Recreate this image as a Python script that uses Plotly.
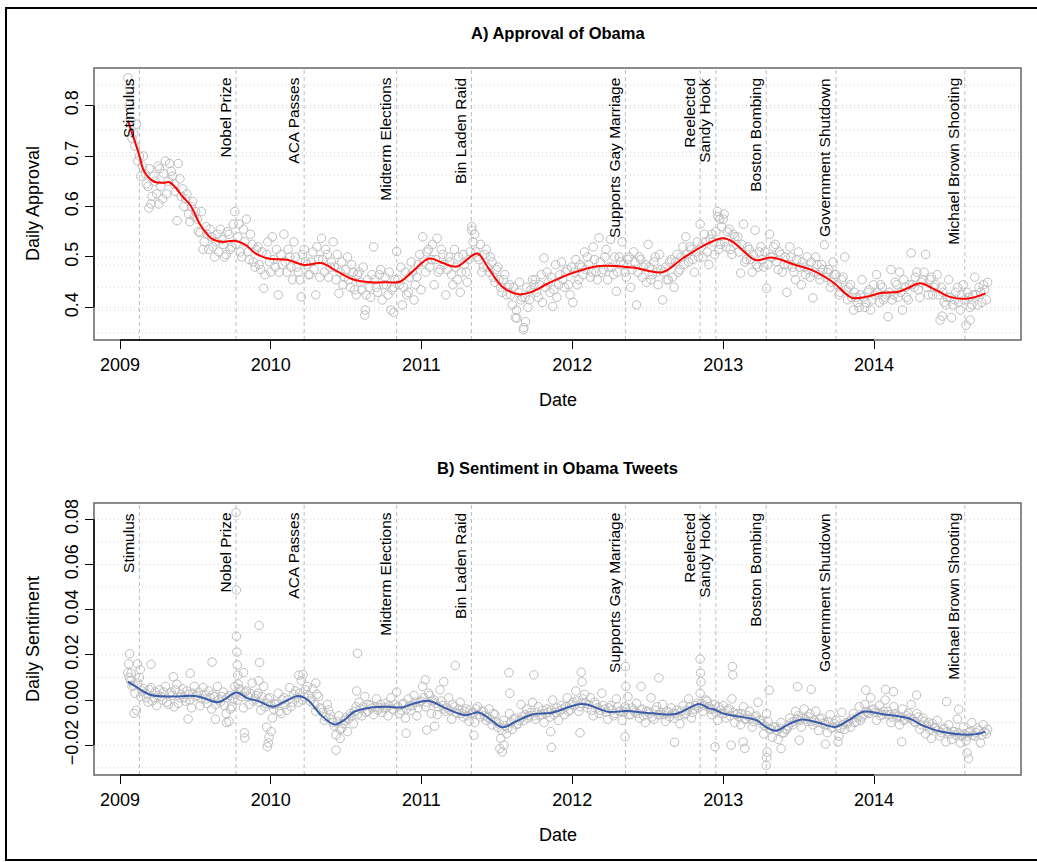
import pandas as pd
import plotly.graph_objects as go

# ---------------- data ----------------
event_names = ["Stimulus", "Nobel Prize", "ACA Passes", "Midterm Elections", "Bin Laden Raid",
               "Supports Gay Marriage", "Reelected", "Sandy Hook", "Boston Bombing",
               "Government Shutdown", "Michael Brown Shooting"]
event_dates = ["2009-02-17", "2009-10-09", "2010-03-23", "2010-11-02", "2011-05-02",
               "2012-05-09", "2012-11-06", "2012-12-14", "2013-04-15", "2013-10-01", "2014-08-09"]

year_ticks = ["2009-01-01", "2010-01-01", "2011-01-01", "2012-01-01", "2013-01-01", "2014-01-01"]
year_labels = ["2009", "2010", "2011", "2012", "2013", "2014"]

# daily approval sampled on Tuesdays, starting 2009-01-20
approval_tue = [
    0.855, 0.770,
    0.745, 0.763, 0.700, 0.680,
    0.665, 0.640, 0.605, 0.660, 0.625,
    0.675, 0.615, 0.690, 0.650,
    0.670, 0.645, 0.572, 0.655,
    0.635, 0.615, 0.585, 0.600, 0.580,
    0.575, 0.548, 0.515, 0.560,
    0.515, 0.540, 0.500, 0.545,
    0.555, 0.525, 0.505, 0.545, 0.520,
    0.590, 0.540, 0.510, 0.555,
    0.575, 0.495, 0.525, 0.480,
    0.520, 0.475, 0.438, 0.505, 0.490,
    # 2010
    0.540, 0.480, 0.425, 0.505,
    0.545, 0.470, 0.500, 0.455,
    0.500, 0.470, 0.421, 0.515, 0.485,
    0.465, 0.510, 0.425, 0.495,
    0.537, 0.470, 0.505, 0.480,
    0.530, 0.455, 0.428, 0.490, 0.460,
    0.500, 0.440, 0.470, 0.425,
    0.470, 0.435, 0.385, 0.455, 0.420,
    0.520, 0.440, 0.465, 0.415,
    0.460, 0.425, 0.395, 0.440,
    0.511, 0.445, 0.405, 0.470, 0.430,
    0.490, 0.415, 0.460, 0.505,
    # 2011
    0.540, 0.470, 0.515, 0.495,
    0.445, 0.537, 0.475, 0.505,
    0.425, 0.500, 0.465, 0.515, 0.455,
    0.430, 0.505, 0.470, 0.495,
    0.560, 0.545, 0.500, 0.525, 0.480,
    0.515, 0.470, 0.490, 0.450,
    0.480, 0.440, 0.455, 0.425,
    0.445, 0.405, 0.380, 0.430, 0.415,
    0.360, 0.440, 0.415, 0.455,
    0.455, 0.420, 0.465, 0.498,
    0.470, 0.430, 0.402, 0.485, 0.445,
    0.490, 0.440, 0.475, 0.425,
    # 2012
    0.410, 0.495, 0.455, 0.480, 0.510,
    0.500, 0.460, 0.520, 0.470,
    0.538, 0.470, 0.500, 0.455,
    0.535, 0.465, 0.432, 0.500,
    0.530, 0.470, 0.495, 0.440, 0.510,
    0.405, 0.500, 0.460, 0.485,
    0.525, 0.455, 0.490, 0.470, 0.505,
    0.415, 0.480, 0.455, 0.495,
    0.440, 0.505, 0.475, 0.520,
    0.540, 0.490, 0.515, 0.470, 0.530,
    0.565, 0.500, 0.530, 0.485,
    0.545, 0.505, 0.590, 0.525,
    # 2013
    0.575, 0.520, 0.555, 0.505, 0.540,
    0.540, 0.468, 0.565, 0.495,
    0.515, 0.470, 0.553, 0.480,
    0.520, 0.480, 0.438, 0.545, 0.500,
    0.525, 0.475, 0.505, 0.485,
    0.430, 0.520, 0.480, 0.455,
    0.510, 0.445, 0.480, 0.500, 0.460,
    0.419, 0.500, 0.465, 0.485,
    0.524, 0.470, 0.440, 0.490,
    0.465, 0.425, 0.455, 0.500, 0.415,
    0.445, 0.395, 0.420, 0.400,
    0.455, 0.400, 0.430, 0.395, 0.445,
    # 2014
    0.465, 0.410, 0.440, 0.420,
    0.382, 0.475, 0.425, 0.445,
    0.470, 0.395, 0.440, 0.415,
    0.508, 0.440, 0.470, 0.420, 0.455,
    0.505, 0.425, 0.460, 0.440,
    0.465, 0.375, 0.430, 0.405,
    0.455, 0.380, 0.415, 0.440, 0.395,
    0.445, 0.365, 0.420, 0.405,
    0.460, 0.405, 0.430, 0.445, 0.415,
]

# daily approval sampled on Fridays, starting 2009-01-23
approval_fri = [
    0.800, 0.735,
    0.720, 0.690, 0.660, 0.700,
    0.645, 0.675, 0.620, 0.650, 0.680,
    0.640, 0.665, 0.625, 0.685,
    0.660, 0.630, 0.685, 0.620,
    0.600, 0.625, 0.570, 0.610, 0.590,
    0.550, 0.590, 0.530, 0.545,
    0.555, 0.520, 0.530, 0.510,
    0.535, 0.500, 0.550, 0.515, 0.565,
    0.525, 0.565, 0.500, 0.530,
    0.510, 0.545, 0.490, 0.515,
    0.485, 0.510, 0.465, 0.530, 0.470,
    # 2010
    0.495, 0.515, 0.470, 0.485,
    0.490, 0.515, 0.480, 0.530,
    0.480, 0.455, 0.505, 0.490, 0.465,
    0.490, 0.475, 0.520, 0.460,
    0.495, 0.515, 0.460, 0.490,
    0.480, 0.505, 0.470, 0.445, 0.475,
    0.455, 0.485, 0.435, 0.465,
    0.450, 0.480, 0.425, 0.440, 0.465,
    0.455, 0.430, 0.475, 0.445,
    0.445, 0.470, 0.435, 0.455,
    0.455, 0.480, 0.440, 0.425, 0.460,
    0.470, 0.445, 0.485, 0.435,
    # 2011
    0.490, 0.510, 0.480, 0.525,
    0.495, 0.470, 0.515, 0.485,
    0.475, 0.490, 0.445, 0.480, 0.500,
    0.470, 0.485, 0.450, 0.510,
    0.530, 0.510, 0.495, 0.470, 0.505,
    0.480, 0.500, 0.460, 0.475,
    0.455, 0.430, 0.465, 0.440,
    0.425, 0.440, 0.395, 0.450, 0.420,
    0.420, 0.400, 0.435, 0.445,
    0.430, 0.445, 0.410, 0.440,
    0.450, 0.460, 0.435, 0.420, 0.465,
    0.455, 0.470, 0.445, 0.480,
    # 2012
    0.470, 0.445, 0.485, 0.465, 0.475,
    0.485, 0.470, 0.495, 0.455,
    0.490, 0.475, 0.515, 0.480,
    0.480, 0.500, 0.470, 0.490,
    0.485, 0.460, 0.500, 0.475, 0.490,
    0.470, 0.495, 0.480, 0.450,
    0.480, 0.465, 0.500, 0.445, 0.475,
    0.470, 0.455, 0.490, 0.460,
    0.490, 0.470, 0.500, 0.485,
    0.505, 0.520, 0.495, 0.510, 0.500,
    0.520, 0.545, 0.510, 0.535,
    0.530, 0.550, 0.515, 0.560,
    # 2013
    0.530, 0.550, 0.515, 0.545, 0.525,
    0.510, 0.525, 0.490, 0.520,
    0.495, 0.505, 0.485, 0.510,
    0.495, 0.510, 0.485, 0.500, 0.520,
    0.490, 0.510, 0.470, 0.500,
    0.485, 0.500, 0.470, 0.495,
    0.480, 0.490, 0.465, 0.475, 0.490,
    0.470, 0.485, 0.455, 0.475,
    0.460, 0.475, 0.450, 0.465,
    0.445, 0.430, 0.460, 0.435, 0.440,
    0.420, 0.430, 0.410, 0.425,
    0.420, 0.410, 0.435, 0.415, 0.425,
    # 2014
    0.430, 0.445, 0.415, 0.425,
    0.430, 0.415, 0.450, 0.420,
    0.430, 0.455, 0.420, 0.445,
    0.445, 0.460, 0.435, 0.450, 0.470,
    0.440, 0.455, 0.425, 0.445,
    0.425, 0.440, 0.410, 0.420,
    0.420, 0.405, 0.430, 0.410, 0.425,
    0.415, 0.430, 0.400, 0.425,
    0.425, 0.440, 0.410, 0.435, 0.450,
]

approval_extra_dates = ["2009-01-24", "2009-03-12", "2009-04-05", "2010-08-18", "2010-10-26",
                        "2011-05-03", "2011-08-20", "2011-09-05", "2011-09-10", "2012-12-19",
                        "2012-12-24", "2013-01-03", "2014-06-15", "2014-08-22"]
approval_extra_values = [0.835, 0.597, 0.605, 0.395, 0.390,
                         0.553, 0.379, 0.356, 0.372, 0.580,
                         0.575, 0.585, 0.383, 0.375]

approval_smooth_dates = [
    "2009-01-20", "2009-02-15", "2009-03-01", "2009-03-25", "2009-04-15", "2009-05-01",
    "2009-05-15", "2009-06-01", "2009-06-20", "2009-07-15", "2009-08-10", "2009-09-05",
    "2009-10-05", "2009-11-01", "2009-11-25", "2009-12-25", "2010-02-12", "2010-03-24",
    "2010-05-03", "2010-06-12", "2010-07-22", "2010-09-01", "2010-10-11", "2010-11-10",
    "2010-12-10", "2011-01-20", "2011-02-22", "2011-03-28", "2011-05-16", "2011-06-12",
    "2011-07-16", "2011-08-25", "2011-09-25", "2011-11-05", "2012-01-01", "2012-03-07",
    "2012-05-26", "2012-08-07", "2012-09-24", "2012-11-25", "2012-12-31", "2013-01-24",
    "2013-02-16", "2013-03-20", "2013-04-28", "2013-06-25", "2013-08-04", "2013-09-22",
    "2013-11-09", "2013-12-12", "2014-01-20", "2014-03-01", "2014-03-26", "2014-04-23",
    "2014-05-30", "2014-07-08", "2014-08-18", "2014-09-28"]
approval_smooth_values = [
    0.770, 0.706, 0.669, 0.649, 0.647, 0.648,
    0.638, 0.620, 0.603, 0.563, 0.537, 0.530,
    0.532, 0.524, 0.507, 0.497, 0.494, 0.484,
    0.488, 0.471, 0.455, 0.450, 0.450, 0.451,
    0.471, 0.497, 0.488, 0.481, 0.507, 0.478,
    0.441, 0.426, 0.431, 0.448, 0.468, 0.482,
    0.479, 0.470, 0.497, 0.527, 0.537, 0.530,
    0.514, 0.494, 0.499, 0.484, 0.474, 0.451,
    0.419, 0.421, 0.429, 0.431, 0.439, 0.448,
    0.435, 0.420, 0.418, 0.428]

# daily tweet sentiment sampled on Tuesdays, starting 2009-01-20
sentiment_tue = [
    0.0120, 0.0085,
    0.0065, -0.0045, 0.0100, 0.0040,
    0.0030, -0.0010, 0.0055, 0.0010, -0.0025,
    0.0045, 0.0000, 0.0060, -0.0020,
    0.0035, -0.0030, 0.0070, 0.0010,
    0.0050, -0.0005, 0.0025, -0.0035, 0.0060,
    0.0020, -0.0025, 0.0055, 0.0005,
    0.0040, -0.0040, 0.0015, 0.0060,
    -0.0010, 0.0035, -0.0060, 0.0020, -0.0030,
    0.0060, 0.0000, 0.0045, -0.0035,
    0.0040, -0.0020, 0.0075, 0.0005,
    0.0030, -0.0045, 0.0060, -0.0015, 0.0010,
    # 2010
    -0.0080, -0.0020, 0.0030, -0.0060,
    0.0010, -0.0045, 0.0055, -0.0010,
    0.0040, -0.0010, 0.0085, 0.0015, 0.0060,
    -0.0005, 0.0050, -0.0050, 0.0015,
    -0.0040, -0.0090, -0.0020, -0.0065,
    -0.0100, -0.0155, -0.0070, -0.0125, -0.0090,
    -0.0140, -0.0060, -0.0105, -0.0030,
    -0.0010, -0.0070, 0.0015, -0.0050, -0.0025,
    -0.0065, 0.0005, -0.0035, -0.0055,
    -0.0015, -0.0070, 0.0010, -0.0045,
    0.0035, -0.0060, -0.0020, -0.0080, 0.0005,
    -0.0045, 0.0020, -0.0070, -0.0010,
    # 2011
    0.0060, -0.0030, 0.0030, -0.0060,
    0.0000, -0.0065, 0.0045, -0.0025,
    -0.0050, 0.0010, -0.0085, -0.0030, -0.0060,
    -0.0010, -0.0075, -0.0040, -0.0095,
    -0.0060, -0.0100, -0.0030, -0.0075, -0.0050,
    -0.0090, -0.0040, -0.0110, -0.0065,
    -0.0120, -0.0170, -0.0090, -0.0150,
    -0.0060, -0.0130, -0.0080, -0.0105, -0.0020,
    -0.0090, -0.0040, -0.0070, -0.0010,
    -0.0085, -0.0030, -0.0065, -0.0100,
    -0.0040, -0.0075, 0.0000, -0.0055, -0.0090,
    -0.0025, -0.0065, 0.0010, -0.0045,
    # 2012
    -0.0010, 0.0040, -0.0050, -0.0015, 0.0025,
    -0.0035, 0.0010, -0.0070, -0.0020,
    -0.0060, 0.0030, -0.0040, -0.0085,
    -0.0025, -0.0070, 0.0005, -0.0050,
    -0.0090, -0.0030, 0.0015, -0.0065, -0.0045,
    -0.0015, -0.0080, -0.0040, -0.0100,
    -0.0050, 0.0010, -0.0085, -0.0030, -0.0065,
    -0.0020, -0.0095, -0.0055, -0.0035,
    -0.0080, -0.0045, -0.0105, -0.0025,
    -0.0060, 0.0005, -0.0080, -0.0040, -0.0015,
    0.0030, -0.0050, 0.0000, -0.0030,
    -0.0065, -0.0020, -0.0090, -0.0045,
    # 2013
    -0.0025, -0.0080, -0.0040, 0.0005, -0.0100,
    -0.0060, -0.0110, -0.0030, -0.0085,
    -0.0050, -0.0120, -0.0075, -0.0010,
    -0.0090, -0.0150, -0.0060, -0.0125, -0.0165,
    -0.0120, -0.0175, -0.0100, -0.0145,
    -0.0130, -0.0080, -0.0110, -0.0050,
    -0.0070, -0.0120, -0.0040, -0.0095, -0.0060,
    -0.0110, -0.0050, -0.0135, -0.0080,
    -0.0100, -0.0145, -0.0065, -0.0120,
    -0.0090, -0.0160, -0.0055, -0.0130, -0.0105,
    -0.0120, -0.0060, -0.0095, -0.0030,
    -0.0075, -0.0020, -0.0055, 0.0010, -0.0040,
    # 2014
    -0.0090, -0.0025, -0.0065, 0.0000,
    -0.0050, -0.0100, -0.0030, -0.0075,
    -0.0110, -0.0040, -0.0085, -0.0060,
    -0.0020, -0.0095, -0.0060, -0.0130, -0.0080,
    -0.0150, -0.0100, -0.0170, -0.0120,
    -0.0090, -0.0160, -0.0130, -0.0185,
    -0.0110, -0.0175, -0.0140, -0.0085, -0.0190,
    -0.0120, -0.0180, -0.0145, -0.0100,
    -0.0160, -0.0125, -0.0190, -0.0110, -0.0150,
]

# daily tweet sentiment sampled on Fridays, starting 2009-01-23
sentiment_fri = [
    0.0100, 0.0060,
    0.0030, 0.0075, 0.0015, 0.0050,
    0.0010, 0.0045, -0.0005, 0.0035, 0.0020,
    0.0015, 0.0035, -0.0010, 0.0030,
    0.0020, 0.0045, -0.0015, 0.0025,
    0.0010, 0.0040, 0.0000, 0.0030, 0.0015,
    0.0035, 0.0005, 0.0025, -0.0015,
    0.0010, 0.0025, -0.0020, 0.0000,
    0.0015, -0.0025, 0.0010, -0.0040, 0.0005,
    0.0025, 0.0050, 0.0015, 0.0035,
    0.0015, 0.0030, -0.0005, 0.0020,
    -0.0010, 0.0015, -0.0030, 0.0005, -0.0020,
    # 2010
    -0.0040, -0.0015, -0.0050, 0.0000,
    -0.0020, 0.0000, -0.0030, 0.0025,
    0.0010, 0.0030, 0.0000, 0.0045, 0.0020,
    0.0005, -0.0020, 0.0025, -0.0035,
    -0.0055, -0.0075, -0.0045, -0.0085,
    -0.0115, -0.0095, -0.0130, -0.0105, -0.0080,
    -0.0085, -0.0070, -0.0050, -0.0065,
    -0.0040, -0.0030, -0.0055, -0.0020, -0.0035,
    -0.0030, -0.0045, -0.0020, -0.0035,
    -0.0035, -0.0025, -0.0040, -0.0020,
    -0.0030, -0.0045, -0.0015, -0.0040, -0.0025,
    -0.0025, -0.0010, -0.0035, -0.0005,
    # 2011
    0.0010, -0.0010, 0.0020, -0.0005,
    -0.0015, -0.0030, -0.0005, -0.0040,
    -0.0035, -0.0045, -0.0020, -0.0055, -0.0040,
    -0.0060, -0.0050, -0.0070, -0.0045,
    -0.0055, -0.0040, -0.0065, -0.0050, -0.0070,
    -0.0075, -0.0085, -0.0060, -0.0095,
    -0.0105, -0.0135, -0.0115, -0.0125,
    -0.0100, -0.0085, -0.0110, -0.0090, -0.0075,
    -0.0065, -0.0080, -0.0055, -0.0070,
    -0.0055, -0.0070, -0.0045, -0.0060,
    -0.0055, -0.0045, -0.0065, -0.0035, -0.0050,
    -0.0040, -0.0030, -0.0050, -0.0020,
    # 2012
    -0.0025, -0.0005, -0.0030, 0.0005, -0.0015,
    -0.0020, -0.0045, -0.0010, -0.0035,
    -0.0045, -0.0025, -0.0055, -0.0035,
    -0.0045, -0.0060, -0.0030, -0.0050,
    -0.0050, -0.0040, -0.0065, -0.0035, -0.0055,
    -0.0060, -0.0045, -0.0070, -0.0050,
    -0.0060, -0.0075, -0.0045, -0.0065, -0.0055,
    -0.0065, -0.0050, -0.0075, -0.0060,
    -0.0060, -0.0070, -0.0050, -0.0065,
    -0.0045, -0.0030, -0.0055, -0.0025, -0.0035,
    -0.0015, -0.0025, -0.0005, -0.0040,
    -0.0040, -0.0055, -0.0030, -0.0060,
    # 2013
    -0.0060, -0.0045, -0.0070, -0.0055, -0.0065,
    -0.0075, -0.0060, -0.0085, -0.0070,
    -0.0080, -0.0095, -0.0070, -0.0090,
    -0.0105, -0.0115, -0.0095, -0.0130, -0.0120,
    -0.0135, -0.0125, -0.0145, -0.0130,
    -0.0115, -0.0100, -0.0095, -0.0085,
    -0.0090, -0.0080, -0.0085, -0.0075, -0.0095,
    -0.0090, -0.0100, -0.0085, -0.0105,
    -0.0110, -0.0095, -0.0125, -0.0105,
    -0.0115, -0.0125, -0.0110, -0.0100, -0.0095,
    -0.0085, -0.0100, -0.0075, -0.0090,
    -0.0065, -0.0050, -0.0060, -0.0045, -0.0055,
    # 2014
    -0.0055, -0.0070, -0.0050, -0.0065,
    -0.0065, -0.0075, -0.0060, -0.0070,
    -0.0075, -0.0090, -0.0070, -0.0080,
    -0.0085, -0.0100, -0.0075, -0.0110, -0.0095,
    -0.0115, -0.0130, -0.0105, -0.0125,
    -0.0135, -0.0145, -0.0125, -0.0140,
    -0.0150, -0.0140, -0.0155, -0.0145, -0.0160,
    -0.0150, -0.0160, -0.0140, -0.0155,
    -0.0145, -0.0135, -0.0155, -0.0140, -0.0130,
]

sentiment_extra_dates = [
    "2009-01-24", "2009-01-22", "2009-02-12", "2009-02-19", "2009-01-28", "2009-03-17",
    "2009-02-04", "2009-05-10", "2009-06-20", "2009-06-15", "2009-08-12", "2009-08-20",
    "2009-09-16", "2009-09-22", "2009-10-09", "2009-10-10", "2009-10-10", "2009-10-11",
    "2009-10-12", "2009-10-13", "2009-10-14", "2009-10-29", "2009-10-30", "2009-10-27",
    "2009-12-04", "2009-12-05", "2009-12-03", "2009-12-24", "2009-12-26", "2009-12-28",
    "2009-12-22", "2010-01-02", "2010-03-10", "2010-03-20", "2010-04-20", "2010-06-08",
    "2010-06-18", "2010-07-30", "2010-07-28", "2010-11-25", "2011-01-10", "2011-01-14",
    "2011-02-24", "2011-02-02", "2011-03-24", "2011-05-08", "2011-07-10", "2011-07-16",
    "2011-07-20", "2011-08-01", "2011-08-03", "2011-09-30", "2011-11-10", "2011-11-12",
    "2012-01-23", "2012-01-25", "2012-01-20", "2012-05-09", "2012-05-10", "2012-05-08",
    "2012-07-29", "2012-06-16", "2012-09-05", "2012-11-06", "2012-11-07", "2012-11-08",
    "2012-12-12", "2013-01-23", "2013-01-24", "2013-01-20", "2013-02-22", "2013-02-18",
    "2013-04-15", "2013-04-16", "2013-04-17", "2013-04-22", "2013-05-21", "2013-06-30",
    "2013-08-02", "2013-07-04", "2013-09-05", "2013-10-06", "2013-12-12", "2014-01-29",
    "2014-02-17", "2014-03-09", "2014-04-14", "2014-06-26", "2014-07-25", "2014-08-14",
    "2014-08-18"]
sentiment_extra_values = [
    0.0205, 0.0160, 0.0160, 0.0135, 0.0120, 0.0158,
    -0.0059, 0.0103, 0.0118, -0.0084, 0.0168, -0.0085,
    -0.0100, -0.0095, 0.0830, 0.0487, 0.0282, 0.0212,
    0.0155, 0.0110, 0.0070, -0.0145, -0.0168, 0.0121,
    0.0330, 0.0166, 0.0085, -0.0207, -0.0190, -0.0165,
    -0.0120, -0.0140, 0.0110, 0.0112, 0.0075, -0.0222,
    -0.0170, 0.0207, 0.0040, -0.0147, 0.0089, -0.0133,
    0.0081, -0.0116, 0.0153, -0.0156, -0.0215, -0.0230,
    -0.0200, 0.0121, 0.0030, 0.0111, -0.0140, -0.0210,
    0.0123, 0.0080, -0.0145, 0.0148, 0.0060, -0.0163,
    0.0098, 0.0060, -0.0187, 0.0181, 0.0119, 0.0080,
    -0.0207, 0.0148, 0.0111, -0.0200, -0.0214, -0.0185,
    -0.0289, -0.0255, -0.0230, 0.0044, -0.0215, 0.0059,
    0.0047, -0.0178, -0.0195, -0.0185, 0.0044, 0.0047,
    0.0037, -0.0185, 0.0022, -0.0007, -0.0041, -0.0234,
    -0.0260]

sentiment_smooth_dates = [
    "2009-01-20", "2009-02-14", "2009-03-17", "2009-05-05", "2009-07-01", "2009-07-25",
    "2009-08-25", "2009-09-12", "2009-10-10", "2009-11-06", "2009-12-01", "2010-01-06",
    "2010-02-04", "2010-03-08", "2010-04-01", "2010-05-03", "2010-06-04", "2010-06-28",
    "2010-07-22", "2010-09-01", "2010-10-11", "2010-11-15", "2010-12-10", "2011-01-20",
    "2011-03-01", "2011-04-17", "2011-05-20", "2011-06-13", "2011-07-16", "2011-08-17",
    "2011-09-26", "2011-11-13", "2012-01-25", "2012-03-31", "2012-05-10", "2012-07-13",
    "2012-09-08", "2012-11-04", "2012-11-27", "2012-12-09", "2012-12-31", "2013-01-31",
    "2013-03-22", "2013-04-14", "2013-05-08", "2013-06-09", "2013-07-11", "2013-08-20",
    "2013-09-30", "2013-11-01", "2013-12-07", "2014-01-20", "2014-03-26", "2014-04-27",
    "2014-06-15", "2014-08-26", "2014-09-28"]
sentiment_smooth_values = [
    0.0081, 0.0052, 0.0022, 0.0015, 0.0018, 0.0007,
    -0.0010, 0.0004, 0.0033, 0.0007, -0.0004, -0.0030,
    -0.0007, 0.0018, 0.0000, -0.0067, -0.0108, -0.0089,
    -0.0052, -0.0033, -0.0030, -0.0033, -0.0018, -0.0004,
    -0.0037, -0.0067, -0.0055, -0.0081, -0.0121, -0.0096,
    -0.0064, -0.0056, -0.0018, -0.0053, -0.0049, -0.0059,
    -0.0062, -0.0018, -0.0037, -0.0041, -0.0059, -0.0071,
    -0.0089, -0.0119, -0.0136, -0.0107, -0.0086, -0.0101,
    -0.0119, -0.0089, -0.0052, -0.0062, -0.0081, -0.0111,
    -0.0141, -0.0153, -0.0141]

# ---------------- figure ----------------
W, H = 1037, 862
FONT = "Liberation Sans, Arial, Helvetica, sans-serif"
PT_GRAY = "#BEBEBE"

def px(v, total):
    return v / total

xdom = [px(94, W), px(1021, W)]
ydomA = [1 - px(340, H), 1 - px(68, H)]
ydomB = [1 - px(775, H), 1 - px(503, H)]
xrange = ["2008-10-30", "2014-12-23"]
yrangeA = [0.3356, 0.8743]
yrangeB = [-0.0332, 0.0872]

tue_a = pd.date_range("2009-01-20", periods=len(approval_tue), freq="7D")
fri_a = pd.date_range("2009-01-23", periods=len(approval_fri), freq="7D")
tue_b = pd.date_range("2009-01-20", periods=len(sentiment_tue), freq="7D")
fri_b = pd.date_range("2009-01-23", periods=len(sentiment_fri), freq="7D")

fig = go.Figure()

def add_points(xs, ys, xa, ya):
    fig.add_trace(go.Scatter(
        x=list(xs), y=ys, mode="markers", xaxis=xa, yaxis=ya, showlegend=False,
        marker=dict(symbol="circle-open", size=8.5, color=PT_GRAY, line=dict(width=1, color=PT_GRAY)),
        hoverinfo="skip"))

add_points(tue_a, approval_tue, "x", "y")
add_points(fri_a, approval_fri, "x", "y")
add_points(pd.to_datetime(approval_extra_dates), approval_extra_values, "x", "y")
fig.add_trace(go.Scatter(x=pd.to_datetime(approval_smooth_dates), y=approval_smooth_values,
                         mode="lines", line=dict(color="#FF0000", width=2, shape="spline", smoothing=1.0),
                         xaxis="x", yaxis="y", showlegend=False, hoverinfo="skip"))

add_points(tue_b, sentiment_tue, "x2", "y2")
add_points(fri_b, sentiment_fri, "x2", "y2")
add_points(pd.to_datetime(sentiment_extra_dates), sentiment_extra_values, "x2", "y2")
fig.add_trace(go.Scatter(x=pd.to_datetime(sentiment_smooth_dates), y=sentiment_smooth_values,
                         mode="lines", line=dict(color="#3A5BA8", width=2, shape="spline", smoothing=1.0),
                         xaxis="x2", yaxis="y2", showlegend=False, hoverinfo="skip"))

tickfont = dict(family=FONT, size=18, color="black")
common_x = dict(type="date", range=xrange, domain=xdom, tickvals=year_ticks, ticktext=year_labels,
                ticks="outside", ticklen=8, tickwidth=1.3, tickcolor="black", showgrid=False,
                zeroline=False, showline=False, tickfont=tickfont, automargin=False)
fig.update_layout(
    width=W, height=H, margin=dict(l=0, r=0, t=0, b=0),
    paper_bgcolor="white", plot_bgcolor="white",
    xaxis=dict(common_x, anchor="y"),
    xaxis2=dict(common_x, anchor="y2"),
    yaxis=dict(domain=ydomA, range=yrangeA, tickvals=[0.4, 0.5, 0.6, 0.7, 0.8], tickformat=".1f",
               ticks="outside", ticklen=8, tickwidth=1.3, tickcolor="black", showgrid=False,
               zeroline=False, showline=False, tickfont=tickfont, tickangle=-90, anchor="x",
               automargin=False),
    yaxis2=dict(domain=ydomB, range=yrangeB, tickvals=[-0.02, 0.0, 0.02, 0.04, 0.06, 0.08],
                tickformat=".2f", ticks="outside", ticklen=8, tickwidth=1.3, tickcolor="black",
                showgrid=False, zeroline=False, showline=False, tickfont=tickfont, tickangle=-90,
                anchor="x2", automargin=False),
)

shapes = []
annotations = []

gridA = [0.4, 0.5, 0.6, 0.7, 0.8, 0.8406, 0.796, 0.7515, 0.707, 0.662, 0.618, 0.573,
         0.529, 0.484, 0.440, 0.395, 0.350]
gridB = [-0.03, -0.02, -0.01, 0.0, 0.01, 0.02, 0.03, 0.04, 0.05, 0.06, 0.07, 0.08]

for xa, ya, grid in (("x", "y", gridA), ("x2", "y2", gridB)):
    for g in grid:
        shapes.append(dict(type="line", xref=f"{xa} domain", yref=ya, x0=0, x1=1, y0=g, y1=g,
                           line=dict(color="#D3D3D3", width=1, dash="1px,3px"), layer="below"))
    for d in event_dates:
        shapes.append(dict(type="line", xref=xa, yref=f"{ya} domain", x0=d, x1=d, y0=0, y1=1,
                           line=dict(color="#BEBEBE", width=1, dash="4px,3px"), layer="below"))
    for name, d in zip(event_names, event_dates):
        annotations.append(dict(text=name, x=d, y=1, xref=xa, yref=f"{ya} domain",
                                xanchor="right", yanchor="top", textangle=-90, showarrow=False,
                                xshift=-1, yshift=-8,
                                font=dict(family=FONT, size=15.5, color="black")))
    shapes.append(dict(type="rect", xref=f"{xa} domain", yref=f"{ya} domain", x0=0, x1=1, y0=0, y1=1,
                       line=dict(color="#666666", width=1.5), fillcolor="rgba(0,0,0,0)", layer="above"))
    shapes.append(dict(type="line", xref=xa, yref=f"{ya} domain", x0=year_ticks[0], x1=year_ticks[-1],
                       y0=0, y1=0, line=dict(color="black", width=1.5), layer="above"))

shapes.append(dict(type="line", xref="x domain", yref="y", x0=0, x1=0, y0=0.4, y1=0.8,
                   line=dict(color="black", width=1.5), layer="above"))
shapes.append(dict(type="line", xref="x2 domain", yref="y2", x0=0, x1=0, y0=-0.02, y1=0.08,
                   line=dict(color="black", width=1.5), layer="above"))

# outer frame
shapes.append(dict(type="rect", xref="paper", yref="paper", x0=px(6, W), x1=1.05,
                   y0=px(2, H), y1=1 - px(8, H), line=dict(color="black", width=2),
                   fillcolor="rgba(0,0,0,0)"))

xc = (xdom[0] + xdom[1]) / 2
titlefont = dict(family=FONT, size=16.5, color="black")
labfont = dict(family=FONT, size=18, color="black")
annotations += [
    dict(text="<b>A) Approval of Obama</b>", x=xc, y=1 - px(33, H), xref="paper", yref="paper",
         showarrow=False, xanchor="center", yanchor="middle", font=titlefont),
    dict(text="<b>B) Sentiment in Obama Tweets</b>", x=xc, y=1 - px(468, H), xref="paper", yref="paper",
         showarrow=False, xanchor="center", yanchor="middle", font=titlefont),
    dict(text="Date", x=xc, y=1 - px(400, H), xref="paper", yref="paper",
         showarrow=False, xanchor="center", yanchor="middle", font=labfont),
    dict(text="Date", x=xc, y=1 - px(835, H), xref="paper", yref="paper",
         showarrow=False, xanchor="center", yanchor="middle", font=labfont),
    dict(text="Daily Approval", x=px(33, W), y=1 - px(204, H), xref="paper", yref="paper",
         showarrow=False, xanchor="center", yanchor="middle", textangle=-90, font=labfont),
    dict(text="Daily Sentiment", x=px(33, W), y=1 - px(639, H), xref="paper", yref="paper",
         showarrow=False, xanchor="center", yanchor="middle", textangle=-90, font=labfont),
]

fig.update_layout(shapes=shapes, annotations=annotations)
fig.write_html("out.html", config={"displayModeBar": False},
               post_script="document.body.style.margin='0px';document.body.style.overflow='hidden';")
